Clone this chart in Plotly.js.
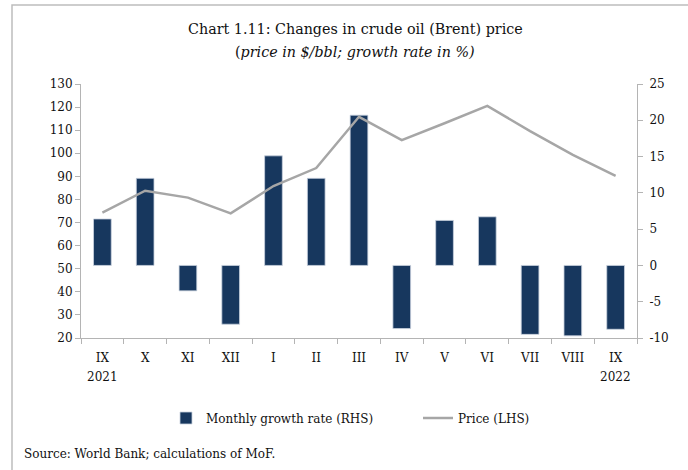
<!DOCTYPE html>
<html>
<head>
<meta charset="utf-8">
<script src="https://cdn.plot.ly/plotly-3.0.1.min.js"></script>
<style>
  html, body { margin: 0; padding: 0; background: #fff; }
  #chart { width: 688px; height: 470px; }
</style>
</head>
<body>
<div id="chart"></div>
<script>
// ---- data ----
const months = ["IX-2021","X-2021","XI-2021","XII-2021","I-2022","II-2022","III-2022","IV-2022","V-2022","VI-2022","VII-2022","VIII-2022","IX-2022"];
const tickLabels = ["IX","X","XI","XII","I","II","III","IV","V","VI","VII","VIII","IX"];
const growthRate = [6.4, 12.0, -3.5, -8.1, 15.1, 12.0, 20.7, -8.7, 6.2, 6.7, -9.5, -9.7, -8.8];
const price = [74.3, 83.8, 80.8, 74.0, 85.8, 93.6, 115.8, 105.7, 113.0, 120.5, 109.6, 99.3, 90.2];
const rhsTickVals = [-10, -5, 0, 5, 10, 15, 20, 25];
const rhsTickText = ["-10", "-5", "0", "5", "10", "15", "20", "25"];
const yearLabels = ["2021", "2022"];
const yearPositions = ["IX-2021", "IX-2022"];
const seriesNames = ["Monthly growth rate (RHS)", "Price (LHS)"];
const titleText = "Chart 1.11: Changes in crude oil (Brent) price";
const subtitleText = "(<i>price in $/bbl; growth rate in %)</i>";
const sourceText = "Source: World Bank; calculations of MoF.";

const FONT = "DejaVu Serif, Liberation Serif, serif";
const axisCol = "#B4B4B4";

const traces = [
  {
    type: "bar",
    name: seriesNames[0],
    x: months,
    y: growthRate,
    yaxis: "y",
    marker: { color: "#17375E", line: { color: "#C9D2DE", width: 0.8 } },
    hoverinfo: "skip"
  },
  {
    type: "scatter",
    mode: "lines",
    name: seriesNames[1],
    x: months,
    y: price,
    yaxis: "y2",
    line: { color: "#A6A6A6", width: 2.5 },
    hoverinfo: "skip"
  }
];

const W = 688, H = 470;
const L = 81, R = 637, T = 84, B = 338;
const px = v => (v - L) / (R - L);
const py = v => (B - v) / (B - T);

const annotations = [
  { text: titleText, xref: "paper", yref: "paper", x: px(355), y: py(29), showarrow: false,
    xanchor: "center", yanchor: "middle", font: { family: FONT, size: 14.3, color: "#111" } },
  { text: subtitleText, xref: "paper", yref: "paper", x: px(355), y: py(52), showarrow: false,
    xanchor: "center", yanchor: "middle", font: { family: FONT, size: 14.3, color: "#111" } },
  { text: sourceText, xref: "paper", yref: "paper", x: px(22), y: py(454), showarrow: false,
    xanchor: "left", yanchor: "middle", font: { family: FONT, size: 12, color: "#111" } }
];
yearLabels.forEach((t, i) => annotations.push({
  text: t, xref: "x", yref: "paper", x: yearPositions[i], y: py(377), showarrow: false,
  xanchor: "center", yanchor: "middle", font: { family: FONT, size: 12, color: "#111" }
}));

const layout = {
  width: W, height: H,
  margin: { l: L, r: W - R, t: T, b: H - B, pad: 0, autoexpand: false },
  paper_bgcolor: "#fff", plot_bgcolor: "#fff",
  font: { family: FONT, size: 12, color: "#111" },
  showlegend: true,
  bargap: 0.586,
  xaxis: {
    type: "category",
    tickmode: "array", tickvals: months, ticktext: tickLabels,
    tickson: "boundaries", ticks: "outside", ticklen: 5, tickcolor: axisCol,
    showline: true, linecolor: axisCol, linewidth: 1,
    showgrid: false, zeroline: false,
    tickfont: { family: FONT, size: 12, color: "#111" },
    ticklabelstandoff: 9,
    fixedrange: true
  },
  yaxis: {
    side: "right",
    range: [-10, 25], tickmode: "array", tickvals: rhsTickVals, ticktext: rhsTickText,
    ticks: "outside", ticklen: 5, tickcolor: axisCol,
    showline: true, linecolor: axisCol, linewidth: 1,
    showgrid: false, zeroline: false,
    tickfont: { family: FONT, size: 12, color: "#111" },
    ticklabelstandoff: 4
  },
  yaxis2: {
    overlaying: "y", side: "left",
    range: [20, 130], tickmode: "linear", tick0: 20, dtick: 10,
    ticks: "outside", ticklen: 5, tickcolor: axisCol,
    showline: true, linecolor: axisCol, linewidth: 1,
    showgrid: false, zeroline: false,
    tickfont: { family: FONT, size: 12, color: "#111" }
  },
  legend: {
    orientation: "h",
    xref: "container", yref: "container",
    x: 166 / W, xanchor: "left",
    y: 1 - 418 / H, yanchor: "middle",
    font: { family: FONT, size: 12, color: "#111" },
    entrywidth: 207, entrywidthmode: "pixels",
    bgcolor: "rgba(0,0,0,0)"
  },
  annotations: annotations,
  shapes: [
    { type: "path", xref: "paper", yref: "paper",
      path: `M ${px(12)} ${py(472)} L ${px(12)} ${py(5)} L ${px(690)} ${py(5)}`,
      line: { color: "#BDBDBD", width: 1.5 } }
  ]
};

Plotly.newPlot("chart", traces, layout, { staticPlot: true, displayModeBar: false });
</script>
</body>
</html>
